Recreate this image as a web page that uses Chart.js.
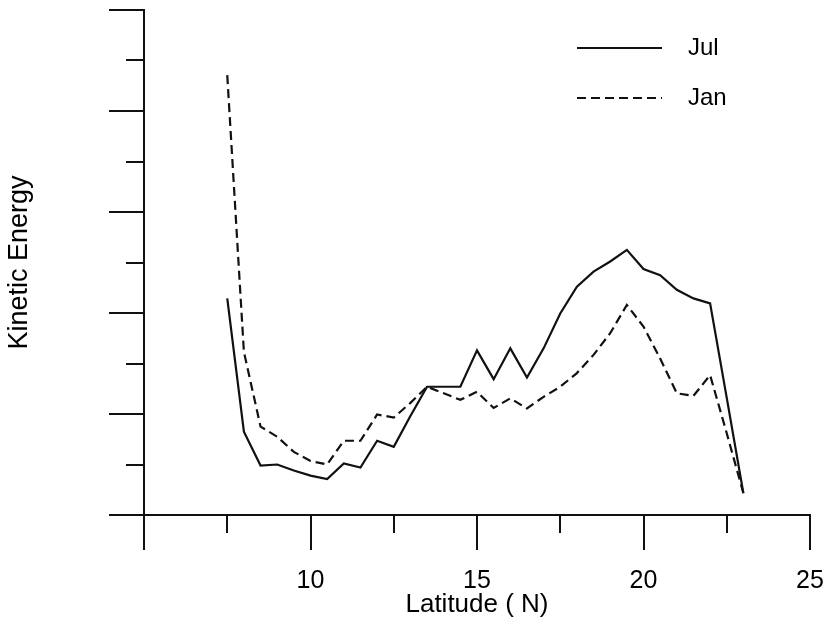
<!DOCTYPE html>
<html>
<head>
<meta charset="utf-8">
<script src="https://cdn.jsdelivr.net/npm/chart.js@4.4.1/dist/chart.umd.min.js"></script>
<style>
  html, body { margin: 0; padding: 0; background: #fff; }
</style>
</head>
<body>
<canvas id="chart" width="830" height="627"></canvas>
<script>
// latitude (N), every half degree
const latitude = [7.5, 8, 8.5, 9, 9.5, 10, 10.5, 11, 11.5, 12, 12.5, 13, 13.5, 14, 14.5, 15,
  15.5, 16, 16.5, 17, 17.5, 18, 18.5, 19, 19.5, 20, 20.5, 21, 21.5, 22, 22.5, 23];

const julEnergy = [4.29, 1.65, 0.98, 1.0, 0.88, 0.78, 0.71, 1.02, 0.94, 1.47, 1.35, 1.96, 2.54, 2.54, 2.54, 3.26,
  2.69, 3.30, 2.72, 3.30, 3.99, 4.52, 4.82, 5.02, 5.25, 4.87, 4.75, 4.46, 4.29, 4.19, 2.32, 0.43];

const janEnergy = [8.71, 3.23, 1.75, 1.55, 1.25, 1.07, 1.00, 1.47, 1.47, 1.99, 1.93, 2.22, 2.54, 2.41, 2.28, 2.44,
  2.12, 2.31, 2.11, 2.34, 2.54, 2.81, 3.17, 3.60, 4.16, 3.73, 3.10, 2.41, 2.36, 2.77, 1.62, 0.43];

const xTicks = [5, 7.5, 10, 12.5, 15, 17.5, 20, 22.5, 25];
const xLabels = [10, 15, 20, 25];
const yTicks = [0, 1, 2, 3, 4, 5, 6, 7, 8, 9, 10];

const ink = '#111';
const family = "'Liberation Sans', Arial, Helvetica, sans-serif";
Chart.defaults.font.family = family;
Chart.defaults.font.size = 25;
Chart.defaults.color = '#000';

// outward tick marks: long on major values, short in between
const axisTicks = {
  id: 'axisTicks',
  afterDraw(chart) {
    const { ctx, scales: { x, y } } = chart;
    ctx.save();
    ctx.strokeStyle = ink;
    ctx.lineWidth = 2;
    xTicks.forEach((v) => {
      const px = Math.round(x.getPixelForValue(v));
      const len = v % 5 === 0 ? 35 : 18;
      ctx.beginPath();
      ctx.moveTo(px, y.bottom);
      ctx.lineTo(px, y.bottom + len);
      ctx.stroke();
    });
    yTicks.forEach((v) => {
      const py = Math.round(y.getPixelForValue(v));
      const len = v % 2 === 0 ? 35 : 18;
      ctx.beginPath();
      ctx.moveTo(x.left, py);
      ctx.lineTo(x.left - len, py);
      ctx.stroke();
    });
    ctx.restore();
  }
};

// line-sample legend in the upper right
const lineLegend = {
  id: 'lineLegend',
  afterDraw(chart) {
    const { ctx } = chart;
    ctx.save();
    chart.data.datasets.forEach((ds, i) => {
      const yy = 48 + i * 50;
      ctx.strokeStyle = ds.borderColor;
      ctx.lineWidth = ds.borderWidth;
      ctx.setLineDash(ds.borderDash || []);
      ctx.beginPath();
      ctx.moveTo(577, yy);
      ctx.lineTo(662, yy);
      ctx.stroke();
      ctx.setLineDash([]);
      ctx.fillStyle = '#000';
      ctx.font = '24px ' + family;
      ctx.textBaseline = 'middle';
      ctx.fillText(ds.label, 688, yy);
    });
    ctx.restore();
  }
};

new Chart(document.getElementById('chart'), {
  type: 'line',
  data: {
    datasets: [
      {
        label: 'Jul',
        data: latitude.map((lat, i) => ({ x: lat, y: julEnergy[i] })),
        borderColor: ink,
        borderWidth: 2.2,
        pointRadius: 0,
        tension: 0,
        fill: false
      },
      {
        label: 'Jan',
        data: latitude.map((lat, i) => ({ x: lat, y: janEnergy[i] })),
        borderColor: ink,
        borderWidth: 2.2,
        borderDash: [9, 5],
        pointRadius: 0,
        tension: 0,
        fill: false
      }
    ]
  },
  options: {
    responsive: false,
    animation: false,
    layout: { padding: { top: 10, right: 20, left: 0, bottom: 0 } },
    plugins: {
      legend: { display: false },
      tooltip: { enabled: false }
    },
    scales: {
      x: {
        type: 'linear',
        min: 5,
        max: 25,
        afterBuildTicks: (scale) => { scale.ticks = xTicks.map((v) => ({ value: v })); },
        afterFit: (scale) => { scale.height = 112; },
        // invisible tick marks only push the labels down; visible ones are drawn by axisTicks
        grid: { display: true, drawOnChartArea: false, drawTicks: true, tickLength: 51, tickColor: 'rgba(0,0,0,0)' },
        border: { display: true, color: ink, width: 2 },
        ticks: {
          padding: 0,
          maxRotation: 0,
          autoSkip: false,
          callback: (v) => (xLabels.includes(v) ? String(v) : '')
        },
        title: {
          display: true,
          text: 'Latitude ( N)',
          font: { size: 26 },
          padding: { top: 0, bottom: 7 }
        }
      },
      y: {
        type: 'linear',
        min: 0,
        max: 10,
        afterFit: (scale) => { scale.width = 144; },
        grid: { display: false, drawTicks: false, tickLength: 0 },
        border: { display: true, color: ink, width: 2 },
        ticks: { display: false },
        title: {
          display: true,
          text: 'Kinetic Energy',
          font: { size: 27 },
          padding: { top: 3, bottom: 0 }
        }
      }
    }
  },
  plugins: [axisTicks, lineLegend]
});
</script>
</body>
</html>
